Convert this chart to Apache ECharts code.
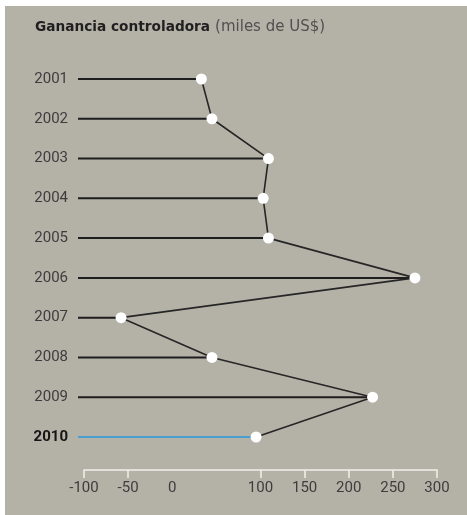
<!DOCTYPE html>
<html>
<head>
<meta charset="utf-8">
<script src="https://cdn.jsdelivr.net/npm/echarts@6/dist/echarts.min.js"></script>
<style>
html,body{margin:0;padding:0;background:#ffffff;}
#chart{width:467px;height:515px;}
</style>
</head>
<body>
<div id="chart"></div>
<script>
// Data
const years = ['2001','2002','2003','2004','2005','2006','2007','2008','2009','2010'];
const ganancia = [33, 45, 109, 103, 109, 275, -58, 45, 227, 95];
const xTickLabels = [-100, -50, 0, 100, 150, 200, 250, 300];
const xTickMarks = [-100, -50, 100, 150, 200, 250, 300];
const highlightYear = '2010';
const titleMain = 'Ganancia controladora';
const titleUnit = '(miles de US$)';

const X_MIN = -100, X_MAX = 300;
const FONT = 'Roboto, "DejaVu Sans", sans-serif';
const TITLE_FONT = '"DejaVu Sans", sans-serif';

const chart = echarts.init(document.getElementById('chart'), null, {renderer: 'canvas'});
const pairs = ganancia.map((v, i) => [v, years[i]]);

chart.setOption({
  backgroundColor: '#ffffff',
  animation: false,
  graphic: [{
    type: 'rect', left: 5, top: 6, z: -10,
    shape: {width: 462, height: 509},
    style: {fill: '#b4b1a7'}
  }],
  title: {
    left: 30, top: 13,
    text: '{a|' + titleMain + '} {b|' + titleUnit + '}',
    textStyle: {
      rich: {
        a: {fontFamily: TITLE_FONT, fontSize: 13.7, fontWeight: 'bold', color: '#1f1f1f'},
        b: {fontFamily: TITLE_FONT, fontSize: 15, fontWeight: 'normal', color: '#505050'}
      }
    }
  },
  grid: {left: 84, right: 30, top: 79, bottom: 78, containLabel: false},
  xAxis: {
    type: 'value', min: X_MIN, max: X_MAX, offset: 33,
    splitLine: {show: false},
    axisLine: {show: true, lineStyle: {color: '#f2f0ea', width: 1.5}},
    axisTick: {show: true, inside: false, length: 8, customValues: xTickMarks,
      lineStyle: {color: '#f2f0ea', width: 1.5}},
    axisLabel: {customValues: xTickLabels, margin: 11, color: '#3d3d3d',
      fontFamily: FONT, fontSize: 15}
  },
  yAxis: {
    type: 'category', data: years, inverse: true, boundaryGap: false,
    axisLine: {show: false}, axisTick: {show: false}, splitLine: {show: false},
    axisLabel: {
      margin: 16, color: '#3d3d3d', fontFamily: FONT, fontSize: 15,
      formatter: v => v === highlightYear ? '{h|' + v + '}' : v,
      rich: {h: {fontFamily: FONT, fontSize: 15, fontWeight: 'bold', color: '#151515'}}
    }
  },
  series: [
    {
      type: 'custom', z: 1,
      encode: {x: 0, y: 1},
      data: pairs,
      renderItem: (params, api) => {
        const end = api.coord([api.value(0), api.value(1)]);
        const start = api.coord([X_MIN, api.value(1)]);
        const isHi = years[params.dataIndex] === highlightYear;
        return {
          type: 'line',
          shape: {x1: start[0] - 6, y1: start[1], x2: end[0], y2: end[1]},
          style: {stroke: isHi ? '#4a9fd0' : '#1e1e1e', lineWidth: 2}
        };
      }
    },
    {
      type: 'line', z: 3,
      data: pairs,
      symbol: 'circle', symbolSize: 11,
      itemStyle: {color: '#ffffff', borderWidth: 0},
      lineStyle: {color: '#262626', width: 1.6}
    }
  ]
});
</script>
</body>
</html>
